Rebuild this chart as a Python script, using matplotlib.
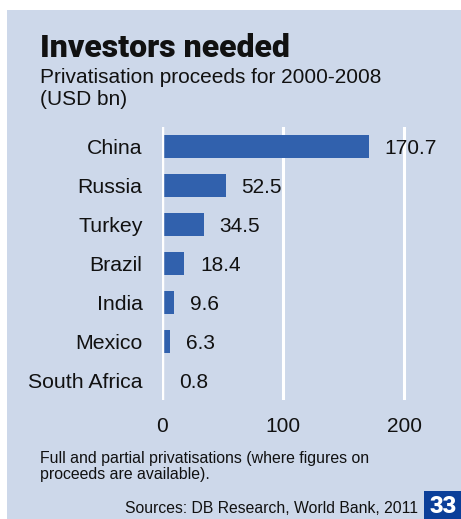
import matplotlib

matplotlib.use("Agg")
import matplotlib.pyplot as plt
from matplotlib.patches import Rectangle

# --- data ---------------------------------------------------------------------
countries = ["China", "Russia", "Turkey", "Brazil", "India", "Mexico", "South Africa"]
proceeds = [170.7, 52.5, 34.5, 18.4, 9.6, 6.3, 0.8]
xticks = [0, 100, 200]

TITLE = "Investors needed"
SUBTITLE = ["Privatisation proceeds for 2000-2008", "(USD bn)"]
NOTE = ["Full and partial privatisations (where figures on",
        "proceeds are available)."]
SOURCE = "Sources: DB Research, World Bank, 2011"
PAGE = "33"

BG = "#cdd8ea"
BAR = "#3161ad"
BOX = "#0b3f99"
W, H = 461, 519

plt.rcParams["font.family"] = ["Liberation Sans", "DejaVu Sans"]

fig = plt.figure(figsize=(W / 100, H / 100), dpi=100)
fig.patch.set_facecolor("white")


def px(x, y):
    """pixel coords (from top-left) -> figure fraction"""
    return x / W, 1 - y / H


# blue panel
fig.patches.append(Rectangle(px(7, H), (W - 7) / W, (H - 10) / H,
                             transform=fig.transFigure, facecolor=BG,
                             edgecolor="none", zorder=0))
# page box
fig.patches.append(Rectangle(px(424, H), (W - 424) / W, (H - 491) / H,
                             transform=fig.transFigure, facecolor=BOX,
                             edgecolor="none", zorder=1))

# axes: x=0 at px 162, 121 px per 100; rows from y=127 to 400
x0, ppu = 162, 1.21
xmax = 230
ax = fig.add_axes([x0 / W, 1 - 400 / H, xmax * ppu / W, 273 / H])
ax.set_zorder(5)
ax.set_facecolor("none")
ypos = list(range(len(countries)))
ax.barh(ypos, proceeds, height=0.6, color=BAR, zorder=2)
ax.set_xlim(0, xmax)
ax.set_ylim(len(countries) - 0.5, -0.5)
for t in xticks[1:]:
    ax.axvline(t, color="white", lw=2.2, zorder=1)
ax.axvline(0, color="white", lw=3.2, zorder=3)

for y, v in zip(ypos, proceeds):
    ax.annotate(f"{v:.1f}", (v, y), xytext=(16, -2), textcoords="offset pixels",
                va="center", ha="left", fontsize=15, color="#111111")

ax.set_yticks(ypos)
ax.set_yticklabels(countries, fontsize=15.3, color="#111111")
ax.set_xticks(xticks)
ax.set_xticklabels([str(t) for t in xticks], fontsize=15, color="#111111")
ax.tick_params(axis="y", length=0, pad=14)
ax.tick_params(axis="x", length=0, pad=12)
for s in ax.spines.values():
    s.set_visible(False)

# texts
fig.text(*px(40, 57), TITLE, fontsize=23, fontweight="black",
         family=["Roboto", "Liberation Sans"], va="baseline", color="#111111")
for i, line in enumerate(SUBTITLE):
    fig.text(*px(40, 83 + i * 22), line, fontsize=15, va="baseline", color="#111111")
for i, line in enumerate(NOTE):
    fig.text(*px(40, 463 + i * 16), line, fontsize=11.4, va="baseline",
             color="#111111")
fig.text(*px(418, 513), SOURCE, fontsize=11.3, va="baseline", ha="right",
         color="#111111")
fig.text(*px(443, 518), PAGE, fontsize=17, fontweight="black",
         family=["Roboto", "Liberation Sans"], va="bottom",
         ha="center", color="white")

fig.savefig("out.png", dpi=100, facecolor=fig.get_facecolor())
